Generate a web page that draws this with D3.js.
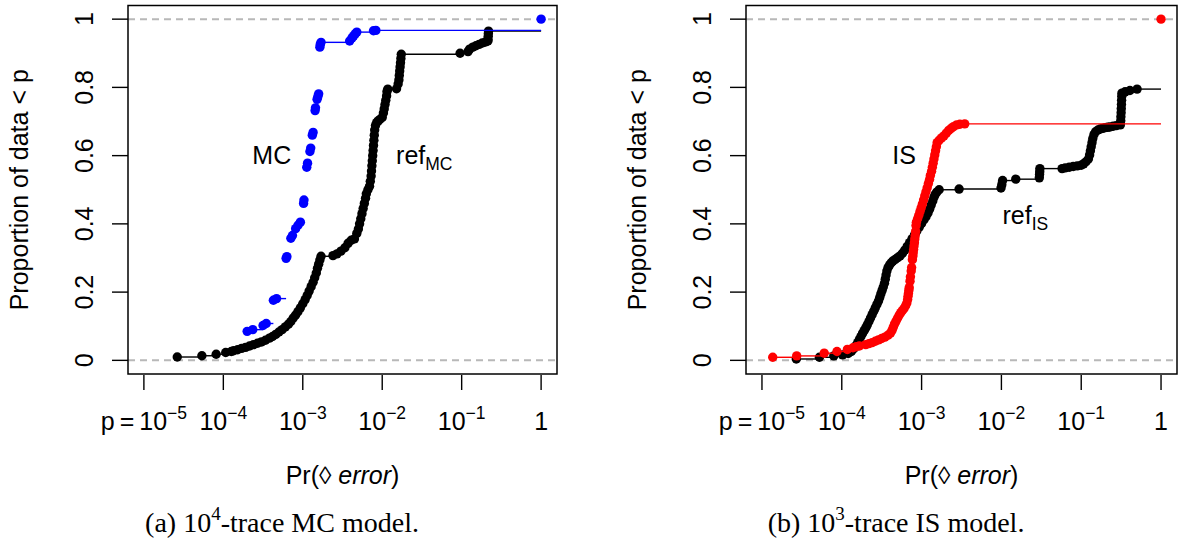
<!DOCTYPE html>
<html>
<head>
<meta charset="utf-8">
<script src="https://cdn.jsdelivr.net/npm/d3@7"></script>
<style>
  body { margin: 0; background: #fff; }
  text { font-family: "Liberation Sans", Arial, Helvetica, sans-serif; fill: #000; }
  .cap { font-family: "Liberation Serif", "Times New Roman", serif; }
</style>
</head>
<body>
<svg id="chart" width="1178" height="542"></svg>
<script>
// log10 of Pr(error) and ECDF proportion
var mcLogP = [-3.70, -3.63, -3.50, -3.46, -3.37, -3.33, -3.21, -3.20, -3.15, -3.13, -3.09, -3.06, -3.03,
  -2.99, -2.985, -2.95, -2.94, -2.91, -2.90, -2.88, -2.87, -2.845, -2.84, -2.82, -2.81, -2.80,
  -2.785, -2.78, -2.77, -2.41, -2.38, -2.36, -2.34, -2.32, -2.11, -2.08, 0];
var mcProp = [0.085, 0.090, 0.102, 0.108, 0.176, 0.181, 0.299, 0.304, 0.358, 0.366, 0.386, 0.396, 0.405,
  0.460, 0.470, 0.566, 0.578, 0.612, 0.622, 0.660, 0.668, 0.732, 0.740, 0.765, 0.773, 0.781,
  0.918, 0.926, 0.932, 0.936, 0.945, 0.951, 0.957, 0.962, 0.966, 0.967, 1.0];

var refMcLogP = [-4.58, -4.27, -4.09, -3.97, -3.90,
  -3.87, -3.82, -3.77, -3.72, -3.67, -3.62, -3.57, -3.52, -3.47, -3.42, -3.38, -3.34, -3.30, -3.26,
  -3.22, -3.18, -3.15, -3.12, -3.09, -3.06, -3.03, -3.00, -2.97, -2.945, -2.92, -2.895, -2.87, -2.85,
  -2.83, -2.815, -2.80, -2.785, -2.77,
  -2.62, -2.57, -2.52, -2.47, -2.43, -2.39, -2.35,
  -2.32, -2.30, -2.285, -2.27, -2.255, -2.24, -2.225, -2.21, -2.20,
  -2.18, -2.16, -2.15, -2.14, -2.135, -2.13, -2.125, -2.12, -2.115, -2.11, -2.105, -2.10, -2.095,
  -2.085, -2.07, -2.05, -2.03, -2.00,
  -1.985, -1.975, -1.965, -1.955, -1.945, -1.94, -1.93,
  -1.82, -1.80, -1.79, -1.785, -1.78, -1.775, -1.77, -1.765, -1.76,
  -1.02, -0.92, -0.90, -0.86, -0.82, -0.78, -0.74, -0.70, -0.67, -0.668, -0.666, -0.664, -0.662];
var refMcProp = [0.0098, 0.0135, 0.018, 0.023, 0.026,
  0.028, 0.031, 0.035, 0.038, 0.042, 0.046, 0.050, 0.054, 0.059, 0.065, 0.070, 0.076, 0.083, 0.090,
  0.098, 0.106, 0.114, 0.124, 0.133, 0.143, 0.154, 0.166, 0.178, 0.190, 0.203, 0.216, 0.229, 0.242,
  0.256, 0.270, 0.282, 0.294, 0.305,
  0.307, 0.312, 0.320, 0.330, 0.343, 0.352, 0.356,
  0.372, 0.385, 0.400, 0.415, 0.430, 0.445, 0.460, 0.475, 0.488,
  0.500, 0.510, 0.525, 0.540, 0.555, 0.570, 0.585, 0.600, 0.615, 0.630, 0.645, 0.660, 0.675,
  0.688, 0.697, 0.702, 0.706, 0.712,
  0.725, 0.737, 0.750, 0.762, 0.775, 0.788, 0.795,
  0.796, 0.810, 0.822, 0.835, 0.848, 0.860, 0.872, 0.885, 0.897,
  0.900, 0.905, 0.912, 0.918, 0.922, 0.926, 0.930, 0.933, 0.936, 0.940, 0.950, 0.958, 0.965];

var isLogP = [-4.865, -4.565, -4.22, -4.06, -3.93, -3.86, -3.82, -3.78,
  -3.70, -3.66, -3.62, -3.58, -3.54, -3.50, -3.46, -3.42, -3.39, -3.37, -3.355, -3.34, -3.32, -3.30,
  -3.28, -3.26, -3.24, -3.22, -3.20, -3.185, -3.175, -3.17, -3.165,
  -3.16, -3.155, -3.145, -3.14, -3.13, -3.125,
  -3.115, -3.11, -3.105, -3.10, -3.095, -3.09, -3.085, -3.08, -3.075, -3.07,
  -3.065, -3.05, -3.035, -3.02, -3.005, -2.99, -2.975, -2.96, -2.945, -2.93, -2.915, -2.90, -2.89,
  -2.875, -2.865, -2.855, -2.845, -2.835, -2.825, -2.815, -2.805,
  -2.78, -2.75, -2.72, -2.69, -2.66, -2.63, -2.60, -2.56, -2.52, -2.46, 0];
var isProp = [0.009, 0.013, 0.021, 0.026, 0.032, 0.037, 0.040, 0.042,
  0.046, 0.049, 0.052, 0.056, 0.060, 0.064, 0.068, 0.074, 0.080, 0.088, 0.097, 0.106, 0.115, 0.124,
  0.133, 0.140, 0.146, 0.152, 0.160, 0.168, 0.178, 0.188, 0.196,
  0.205, 0.213, 0.232, 0.245, 0.262, 0.272,
  0.295, 0.305, 0.315, 0.325, 0.335, 0.345, 0.356, 0.366, 0.378, 0.395,
  0.405, 0.415, 0.425, 0.436, 0.447, 0.458, 0.470, 0.482, 0.494, 0.506, 0.518, 0.530, 0.542,
  0.554, 0.566, 0.578, 0.590, 0.602, 0.614, 0.626, 0.638,
  0.645, 0.652, 0.658, 0.666, 0.674, 0.680, 0.685, 0.690, 0.692, 0.693, 1.0];

var refIsLogP = [-4.57, -4.28, -4.10, -3.99, -3.92, -3.88, -3.85, -3.82, -3.80, -3.78, -3.76, -3.74,
  -3.72, -3.70, -3.68, -3.66, -3.64, -3.62, -3.60, -3.58, -3.56, -3.54, -3.525, -3.51, -3.495, -3.48,
  -3.465, -3.455, -3.445, -3.435, -3.42, -3.40, -3.38, -3.36, -3.33, -3.30, -3.27, -3.24, -3.21,
  -3.18, -3.15, -3.12, -3.09, -3.06, -3.03, -3.00, -2.97, -2.945, -2.92, -2.90, -2.88, -2.86,
  -2.845, -2.83, -2.81, -2.78,
  -2.53, -2.005, -1.995, -1.985, -1.82, -1.525, -1.522, -1.52, -1.518,
  -1.24, -1.20, -1.15, -1.10, -1.05, -1.00, -0.97, -0.94, -0.91, -0.895, -0.885, -0.875, -0.865,
  -0.855, -0.84, -0.82, -0.79, -0.76, -0.73, -0.70, -0.67, -0.64, -0.60, -0.56, -0.51,
  -0.505, -0.503, -0.50, -0.498, -0.496, -0.494, -0.492, -0.49, -0.45, -0.39, -0.30];
var refIsProp = [0.004, 0.009, 0.013, 0.016, 0.020, 0.026, 0.034, 0.043, 0.052, 0.061, 0.070, 0.079,
  0.087, 0.095, 0.104, 0.114, 0.124, 0.134, 0.144, 0.154, 0.164, 0.174, 0.184, 0.195, 0.205, 0.215,
  0.226, 0.238, 0.250, 0.262, 0.272, 0.280, 0.286, 0.291, 0.296, 0.301, 0.306, 0.314, 0.323,
  0.334, 0.345, 0.356, 0.367, 0.379, 0.390, 0.401, 0.412, 0.421, 0.432, 0.443, 0.455, 0.467,
  0.478, 0.486, 0.493, 0.500,
  0.502, 0.505, 0.515, 0.527, 0.531, 0.535, 0.545, 0.553, 0.562,
  0.562, 0.564, 0.566, 0.568, 0.570, 0.572, 0.576, 0.582, 0.590, 0.602, 0.614, 0.626, 0.638,
  0.650, 0.662, 0.670, 0.675, 0.678, 0.680, 0.682, 0.683, 0.684, 0.686, 0.688, 0.690,
  0.702, 0.714, 0.726, 0.738, 0.750, 0.762, 0.774, 0.783, 0.787, 0.791, 0.795];

var xTickExps = [-5, -4, -3, -2, -1, 0];
var yTicks = [0, 0.2, 0.4, 0.6, 0.8, 1];

var svg = d3.select('#chart');

var panels = [
  { x0: 128, x1: 557, capX: 282, capLetter: '(a) ', capPow: '4', capRest: '-trace MC model.',
    ref: [refMcLogP, refMcProp], est: [mcLogP, mcProp], color: '#0000ff',
    estLab: { t: 'MC', lp: -3.39, y: 0.575 }, refLab: { t: 'ref', sub: 'MC', lp: -1.47, y: 0.575 } },
  { x0: 746, x1: 1177, capX: 896, capLetter: '(b) ', capPow: '3', capRest: '-trace IS model.',
    ref: [refIsLogP, refIsProp], est: [isLogP, isProp], color: '#ff0000',
    estLab: { t: 'IS', lp: -3.22, y: 0.575 }, refLab: { t: 'ref', sub: 'IS', lp: -1.70, y: 0.40 } }
];

var plotTop = 5.5, plotBottom = 374;

function drawSeries(g, x, y, logp, prop, color) {
  var pts = logp.map(function(d, i) { return { p: Math.pow(10, d), f: prop[i] }; });
  var segs = [];
  pts.forEach(function(d, i) {
    var xe = i < pts.length - 1 ? pts[i + 1].p : 1;
    if (xe > d.p) segs.push({ a: d.p, b: xe, f: d.f });
  });
  g.append('g').selectAll('line').data(segs).enter().append('line')
    .attr('x1', function(d) { return x(d.a); })
    .attr('x2', function(d) { return x(d.b); })
    .attr('y1', function(d) { return y(d.f); })
    .attr('y2', function(d) { return y(d.f); })
    .attr('stroke', color).attr('stroke-width', 1.4);
  g.append('g').selectAll('circle').data(pts).enter().append('circle')
    .attr('cx', function(d) { return x(d.p); })
    .attr('cy', function(d) { return y(d.f); })
    .attr('r', 4.7)
    .attr('fill', color);
}

panels.forEach(function(P) {
  var x = d3.scaleLog().domain([Math.pow(10, -5.2), Math.pow(10, 0.2)]).range([P.x0, P.x1]);
  var y = d3.scaleLinear().domain([-0.04, 1.04]).range([plotBottom, plotTop]);
  var g = svg.append('g');

  // dashed reference lines at 0 and 1
  g.selectAll('.ref0').data([0, 1]).enter().append('line')
    .attr('x1', P.x0).attr('x2', P.x1)
    .attr('y1', function(d) { return y(d); }).attr('y2', function(d) { return y(d); })
    .attr('stroke', '#b8b8b8').attr('stroke-width', 2).attr('stroke-dasharray', '7,5');

  drawSeries(g, x, y, P.ref[0], P.ref[1], '#000');
  drawSeries(g, x, y, P.est[0], P.est[1], P.color);

  g.append('rect').attr('x', P.x0).attr('y', plotTop)
    .attr('width', P.x1 - P.x0).attr('height', plotBottom - plotTop)
    .attr('fill', 'none').attr('stroke', '#000').attr('stroke-width', 1.5);

  // y axis
  var ya = g.append('g');
  ya.selectAll('line').data(yTicks).enter().append('line')
    .attr('x1', P.x0 - 16).attr('x2', P.x0)
    .attr('y1', function(d) { return y(d); }).attr('y2', function(d) { return y(d); })
    .attr('stroke', '#000').attr('stroke-width', 1.4);
  ya.selectAll('text').data(yTicks).enter().append('text')
    .attr('transform', function(d) { return 'translate(' + (P.x0 - 35) + ',' + y(d) + ') rotate(-90)'; })
    .attr('text-anchor', 'middle').style('font-size', '25px')
    .text(function(d) { return d === 0 || d === 1 ? d : d.toFixed(1); });
  g.append('text')
    .attr('transform', 'translate(' + (P.x0 - 100) + ',' + ((plotTop + plotBottom) / 2) + ') rotate(-90)')
    .attr('text-anchor', 'middle').style('font-size', '25px')
    .text('Proportion of data < p');

  // x axis
  var xa = g.append('g');
  xa.selectAll('line').data(xTickExps).enter().append('line')
    .attr('x1', function(d) { return x(Math.pow(10, d)); })
    .attr('x2', function(d) { return x(Math.pow(10, d)); })
    .attr('y1', plotBottom + 1).attr('y2', plotBottom + 16)
    .attr('stroke', '#000').attr('stroke-width', 1.4);
  xa.selectAll('text').data(xTickExps).enter().append('text')
    .attr('x', function(d) { return x(Math.pow(10, d)); })
    .attr('y', 430)
    .attr('text-anchor', 'middle').style('font-size', '25px')
    .each(function(d) {
      var t = d3.select(this);
      if (d === 0) { t.text('1'); return; }
      t.append('tspan').text((d === -5 ? 'p\u2009=\u200910' : '10'));
      t.append('tspan').attr('dy', -11).style('font-size', '17.5px').text('\u2212' + (-d));
    });
  var xt = g.append('text')
    .attr('x', (P.x0 + P.x1) / 2).attr('y', 484)
    .attr('text-anchor', 'middle').style('font-size', '25px');
  xt.append('tspan').text('Pr(\u25CA ');
  xt.append('tspan').style('font-style', 'italic').text('error');
  xt.append('tspan').text(')');

  // series labels
  g.append('text').attr('x', x(Math.pow(10, P.estLab.lp))).attr('y', y(P.estLab.y))
    .attr('text-anchor', 'middle').style('font-size', '25px').text(P.estLab.t);
  var rl = g.append('text').attr('x', x(Math.pow(10, P.refLab.lp))).attr('y', y(P.refLab.y))
    .attr('text-anchor', 'middle').style('font-size', '25px');
  rl.append('tspan').text(P.refLab.t);
  rl.append('tspan').attr('dy', 6).style('font-size', '17.5px').text(P.refLab.sub);

  // caption
  var cap = g.append('text').attr('class', 'cap')
    .attr('x', P.capX).attr('y', 532)
    .attr('text-anchor', 'middle').style('font-size', '28px');
  cap.append('tspan').text(P.capLetter + '10');
  cap.append('tspan').attr('dy', -12).style('font-size', '19px').text(P.capPow);
  cap.append('tspan').attr('dy', 12).text(P.capRest);
});
</script>
</body>
</html>
